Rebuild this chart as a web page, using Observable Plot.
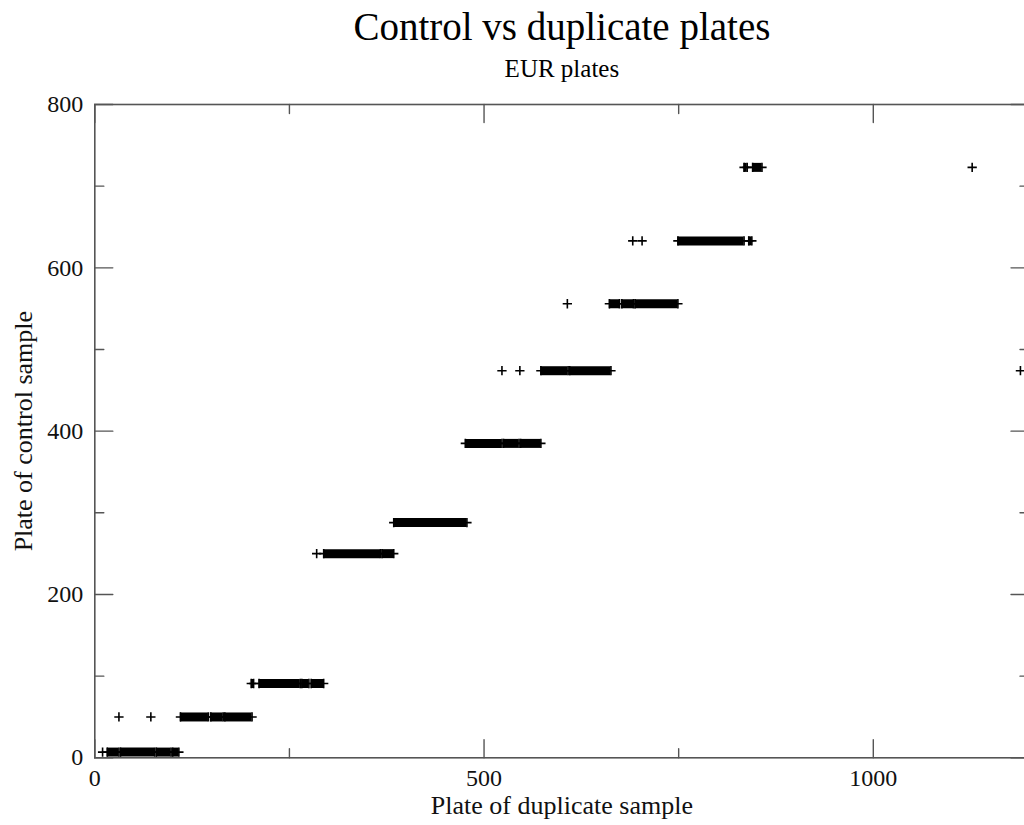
<!DOCTYPE html>
<html>
<head>
<meta charset="utf-8">
<script src="https://cdn.jsdelivr.net/npm/d3@7"></script>
<script src="https://cdn.jsdelivr.net/npm/@observablehq/plot@0.6"></script>
<style>
html, body { margin: 0; padding: 0; background: #fff; overflow: hidden; width: 1024px; height: 825px; }
#chart { width: 1024px; height: 825px; overflow: hidden; position: relative; }
#chart svg { max-width: none !important; display: block; }
</style>
</head>
<body>
<div id="chart"></div>
<script>
// ---- Texts ----
const titleText = "Control vs duplicate plates";
const subtitleText = "EUR plates";
const xLabelText = "Plate of duplicate sample";
const yLabelText = "Plate of control sample";

// ---- Axis ticks ----
const xMajorTicks = [0, 500, 1000];
const xMinorTicks = [250, 750];
const yMajorTicks = [0, 200, 400, 600, 800];
const yMinorTicks = [100, 300, 500, 700];

// ---- Dense runs of points (duplicate plate range for one control plate) ----
const runControl = [7, 7, 7, 7, 50, 50, 50, 91, 91, 91, 91, 250, 250, 288, 385, 385, 385, 474, 474, 556, 556, 556, 633, 633, 723, 723];
const runDupFrom = [16, 33, 79, 100, 110, 149, 167, 201, 211, 266, 278, 294, 369, 384, 476, 525, 547, 573, 610, 661, 677, 694, 749, 840, 834, 845];
const runDupTo   = [31, 77, 98, 108, 146, 165, 202, 204, 264, 275, 294, 367, 384, 478, 523, 545, 573, 608, 663, 674, 692, 749, 834, 844, 838, 857];

// ---- Isolated points ----
const singleControl = [7, 50, 50, 250, 474, 474, 474, 556, 633, 633, 723];
const singleDup     = [10, 31, 72, 285, 523, 546, 1189, 607, 691, 703, 1127];

// ---- Build tables ----
const runs = runControl.map((c, i) => ({control: c, from: runDupFrom[i], to: runDupTo[i]}));
const runEnds = runs.flatMap(r => [{control: r.control, dup: r.from}, {control: r.control, dup: r.to}]);
const singles = singleControl.map((c, i) => ({control: c, dup: singleDup[i]}));

const axisColor = "#555";
const serif = "'Liberation Serif', 'Times New Roman', 'DejaVu Serif', serif";
const tickShape = {draw(ctx, l) { ctx.moveTo(0, 0); ctx.lineTo(0, -l); }};
const majorLen = 18, minorLen = 9;
const plusR = 3.1;

function ticks(vals, len, side) {
  const isX = side === "bottom" || side === "top";
  const rot = {bottom: 0, top: 180, left: 90, right: -90}[side];
  return Plot.vector(vals, {
    [isX ? "x" : "y"]: d => d,
    frameAnchor: side, length: len, rotate: rot, anchor: "start",
    shape: tickShape, stroke: axisColor, strokeWidth: 1.4
  });
}

const chart = Plot.plot({
  width: 1060,
  height: 825,
  marginLeft: 94.3,
  marginRight: 31.5,
  marginTop: 104,
  marginBottom: 67.7,
  style: {fontFamily: serif, background: "#fff", color: "#000", maxWidth: "none"},
  x: {domain: [0, 1200], axis: null},
  y: {domain: [0, 800], axis: null},
  marks: [
    Plot.frame({stroke: axisColor, strokeWidth: 1.6}),
    ticks(xMajorTicks, majorLen, "bottom"),
    ticks(xMinorTicks, minorLen, "bottom"),
    ticks(xMajorTicks, majorLen, "top"),
    ticks(xMinorTicks, minorLen, "top"),
    ticks(yMajorTicks, majorLen, "left"),
    ticks(yMinorTicks, minorLen, "left"),
    ticks(yMajorTicks, majorLen, "right"),
    ticks(yMinorTicks, minorLen, "right"),
    // tick labels
    Plot.text(xMajorTicks, {x: d => d, frameAnchor: "bottom", dy: 21, text: d => String(d), fontSize: 24, textAnchor: "middle", lineAnchor: "middle", fill: "#111"}),
    Plot.text(yMajorTicks, {y: d => d, frameAnchor: "left", dx: -11.5, text: d => String(d), fontSize: 24, textAnchor: "end", lineAnchor: "middle", fill: "#111"}),
    // data: dense runs
    Plot.ruleY(runs, {y: "control", x1: "from", x2: "to", stroke: "#000", strokeWidth: 9}),
    Plot.dot(runEnds, {x: "dup", y: "control", symbol: "plus", r: plusR, stroke: "#000", strokeWidth: 1.6}),
    // data: isolated points
    Plot.dot(singles, {x: "dup", y: "control", symbol: "plus", r: plusR, stroke: "#000", strokeWidth: 1.6}),
    // titles and axis labels
    Plot.text([titleText], {frameAnchor: "top", dy: -77, text: d => d, fontSize: 39, textAnchor: "middle", lineAnchor: "middle", fill: "#000"}),
    Plot.text([subtitleText], {frameAnchor: "top", dy: -36, text: d => d, fontSize: 25, textAnchor: "middle", lineAnchor: "middle", fill: "#000"}),
    Plot.text([xLabelText], {frameAnchor: "bottom", dy: 48, text: d => d, fontSize: 26, textAnchor: "middle", lineAnchor: "middle", fill: "#111"}),
    Plot.text([yLabelText], {frameAnchor: "left", dx: -71, rotate: -90, text: d => d, fontSize: 26, textAnchor: "middle", lineAnchor: "middle", fill: "#111"})
  ]
});
document.getElementById("chart").appendChild(chart);
</script>
</body>
</html>
